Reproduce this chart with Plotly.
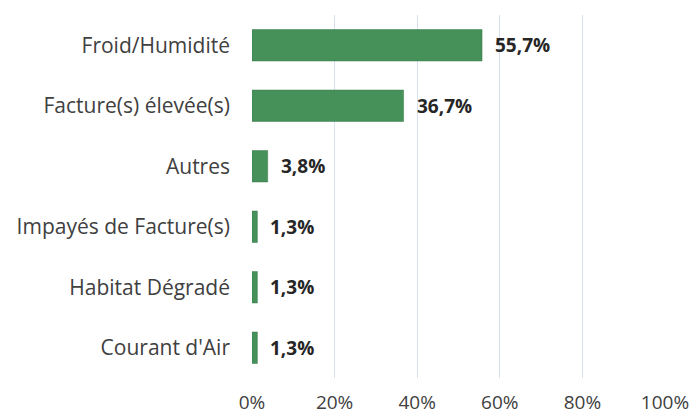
import plotly.graph_objects as go

# Causes reported, share of households
categories = [
    "Froid/Humidité",
    "Facture(s) élevée(s)",
    "Autres",
    "Impayés de Facture(s)",
    "Habitat Dégradé",
    "Courant d'Air",
]
shares = [0.557, 0.367, 0.038, 0.013, 0.013, 0.013]
tick_values = [0, 0.2, 0.4, 0.6, 0.8, 1.0]

bar_color = "#46915a"
font_family = "Open Sans, Liberation Sans, sans-serif"

fig = go.Figure(
    go.Bar(
        x=shares,
        y=categories,
        orientation="h",
        marker=dict(color=bar_color, line=dict(color="#3b7a4c", width=0.5)),
        width=0.52,
        hoverinfo="skip",
    )
)

# value labels just to the right of each bar
for cat, val in zip(categories, shares):
    fig.add_annotation(
        x=val,
        y=cat,
        text=f"<b>{val * 100:.1f}%</b>".replace(".", ","),
        showarrow=False,
        xanchor="left",
        xshift=11,
        font=dict(family=font_family, size=19, color="#262626"),
    )

fig.update_layout(
    width=696,
    height=419,
    margin=dict(l=252, r=31, t=15, b=41),
    plot_bgcolor="white",
    paper_bgcolor="white",
    showlegend=False,
    separators=", ",
    font=dict(family=font_family, size=21, color="#404040"),
)
fig.update_xaxes(
    range=[0, 1.0],
    tickvals=tick_values,
    tickformat=".0%",
    tickfont=dict(size=19),
    showgrid=True,
    gridcolor="#d6e0f1",
    gridwidth=1,
    zeroline=False,
    showline=False,
    ticks="",
    ticklabelstandoff=11,
    automargin=False,
    fixedrange=True,
)
fig.update_yaxes(
    categoryorder="array",
    categoryarray=categories[::-1],
    showgrid=False,
    zeroline=False,
    showline=False,
    ticks="",
    ticklabelstandoff=21,
    automargin=False,
    fixedrange=True,
)

fig.write_html("out.html")
